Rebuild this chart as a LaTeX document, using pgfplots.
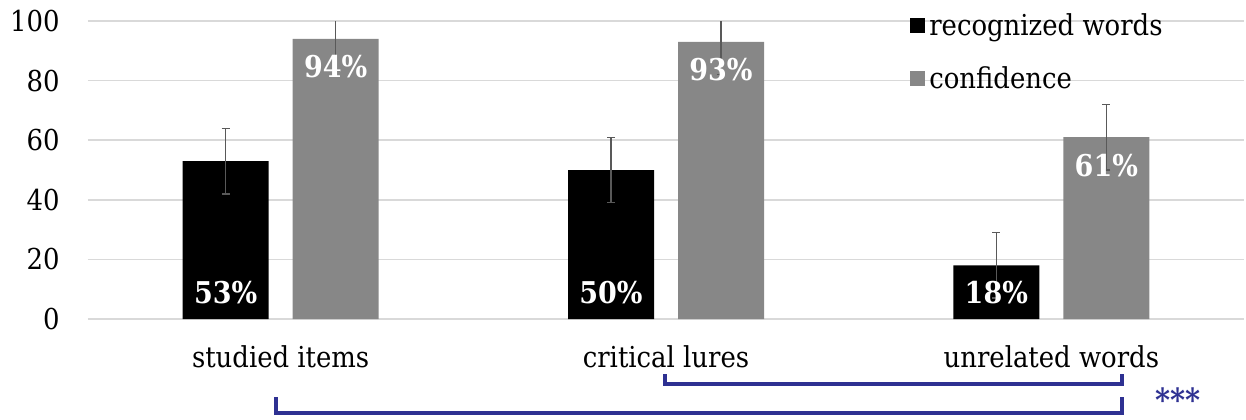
\documentclass[border=0pt]{standalone}
\usepackage{pgfplots}
\pgfplotsset{compat=1.18}
\usepackage{pgfplotstable}
\usepackage{fontspec}
\setmainfont{DejaVu Serif Condensed}
\definecolor{bargray}{RGB}{135,135,135}
\definecolor{errgray}{RGB}{89,89,89}
\definecolor{gridgray}{RGB}{217,217,217}
\definecolor{navy}{RGB}{46,49,146}

\pgfplotsset{squarelegend/.style={legend image code/.code={\fill[##1] (0pt,-3.75pt) rectangle (7.5pt,3.75pt);}}}

\pgfplotstableread{
x rec recerr conf conferr
0 53 11 94 11
1 50 11 93 11
2 18 11 61 11
}\datatable

\begin{document}
\begin{tikzpicture}
\useasboundingbox (-44pt,-50pt) rectangle (579pt,159.5pt);
\begin{axis}[
  at={(0pt,0pt)}, anchor=south west,
  scale only axis, width=578pt, height=149pt,
  xmin=-0.5, xmax=2.5, ymin=0, ymax=100,
  ybar=12pt, bar width=43pt,
  xtick={0,1,2}, xticklabels={studied items, critical lures, unrelated words},
  ytick={0,20,40,60,80,100},
  ymajorgrids, grid style={draw=gridgray, line width=0.8pt},
  axis line style={draw=none},
  major tick length=0pt,
  /pgf/number format/assume math mode=true,
  tick label style={font=\fontsize{14.4}{16}\selectfont},
  yticklabel style={anchor=east, inner sep=0pt, xshift=-14pt},
  xticklabel style={anchor=base, inner sep=0pt, yshift=-24pt},
  legend style={draw=none, fill=none, at={(rel axis cs:0.711,1.04)}, anchor=north west,
    font=\fontsize{14.4}{16}\selectfont, row sep=10pt, inner sep=0pt, cells={anchor=west}},
  legend cell align=left,
  point meta=y,
]
\addplot[fill=black, draw=none, squarelegend,
  nodes near coords={\pgfmathprintnumber{\pgfplotspointmeta}\%},
  visualization depends on={y \as \rawy},
  every node near coord/.append style={font=\bfseries\fontsize{15}{17}\selectfont, text=white, anchor=center,
    shift={(axis direction cs:0,-\rawy)}, yshift=13pt},
  error bars/.cd, y dir=both, y explicit,
  error bar style={draw=errgray, line width=0.7pt},
  error mark options={rotate=90, mark size=2pt, draw=errgray, line width=0.7pt}]
  table[x=x, y=rec, y error=recerr]{\datatable};
\addplot[fill=bargray, draw=none, squarelegend,
  nodes near coords={\pgfmathprintnumber{\pgfplotspointmeta}\%},
  every node near coord/.append style={font=\bfseries\fontsize{15}{17}\selectfont, text=white, anchor=center, yshift=-14pt},
  error bars/.cd, y dir=both, y explicit,
  error bar style={draw=errgray, line width=0.7pt},
  error mark options={rotate=90, mark size=2pt, draw=errgray, line width=0.7pt}]
  table[x=x, y=conf, y error=conferr]{\datatable};
\legend{recognized words, confidence}
\end{axis}
\draw[navy, line width=2pt] (288.5pt,-27.5pt) -- (288.5pt,-32.5pt) -- (517pt,-32.5pt) -- (517pt,-27.5pt);
\draw[navy, line width=2pt] (94pt,-39pt) -- (94pt,-47pt) -- (517pt,-47pt) -- (517pt,-39pt);
\node[text=navy, font=\bfseries\fontsize{16}{18}\selectfont, anchor=base, inner sep=0pt] at (545pt,-46pt) {***};
\end{tikzpicture}
\end{document}
